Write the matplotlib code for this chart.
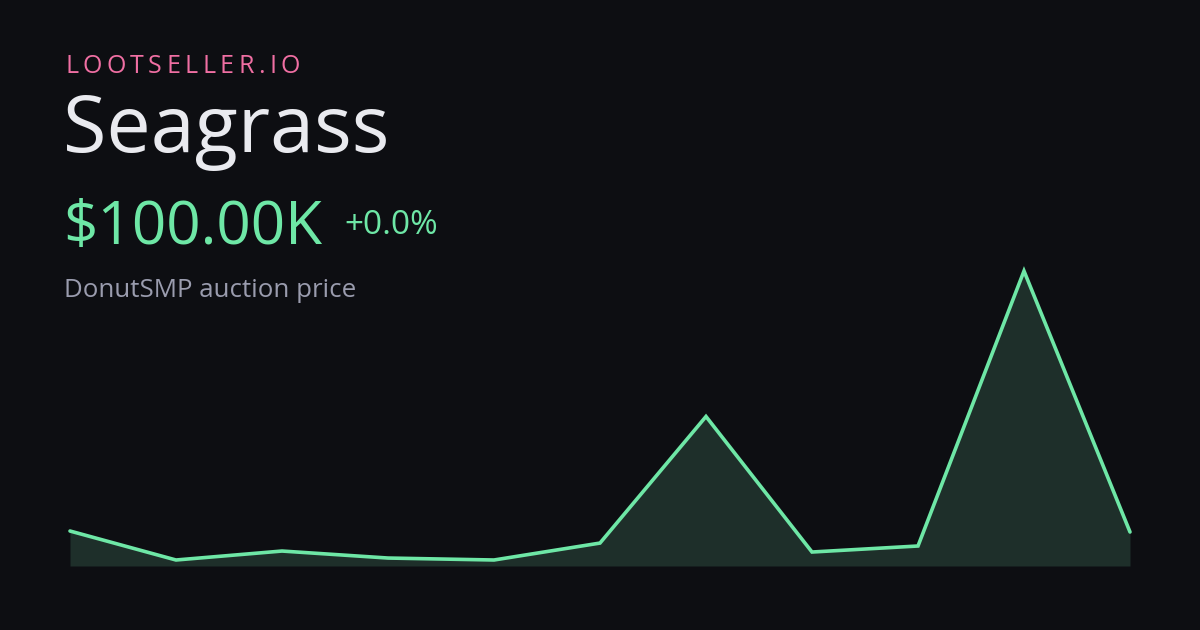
import numpy as np
import matplotlib
matplotlib.use('Agg')
import matplotlib.pyplot as plt

# ─────────────────────────────────────────────────────────────────────────────
# data (prices in $K)
# ─────────────────────────────────────────────────────────────────────────────

POINTS = list(range(11))
PRICES = [100.7, 80.0, 86.4, 81.4, 80.0, 92.1, 182.5, 85.7, 90.0, 286.4, 100.0]

BRAND    = 'LOOTSELLER.IO'
ITEM     = 'Seagrass'
PRICE    = '$100.00K'
CHANGE   = '+0.0%'
SUBTITLE = 'DonutSMP auction price'

# ─────────────────────────────────────────────────────────────────────────────
# style
# ─────────────────────────────────────────────────────────────────────────────

BG     = '#0d0e12'
GREEN  = '#6ee7a6'
FILL   = '#1e2f2a'
PINK   = '#f06fa3'
WHITE  = '#e9eaef'
GREY   = '#9a9cae'

W, H = 1200, 630
plt.rcParams['font.family'] = ['Open Sans', 'DejaVu Sans']

fig = plt.figure(figsize=(W / 100, H / 100), dpi=100, facecolor=BG)

def px(x, y):
    """pixel (from top-left) -> figure fraction"""
    return x / W, 1 - y / H

# ─────────────────────────────────────────────────────────────────────────────
# header texts
# ─────────────────────────────────────────────────────────────────────────────

# letter-spaced brand name, one glyph at a time
renderer = fig.canvas.get_renderer()
x = 65
for ch in BRAND:
    t = fig.text(*px(x, 73), ch, color=PINK, fontsize=18, va='baseline', ha='left')
    w = t.get_window_extent(renderer).width
    x += w + 4.4

fig.text(*px(63, 152), ITEM, color=WHITE, fontsize=57, va='baseline', ha='left')
fig.text(*px(63, 244), PRICE, color=GREEN, fontsize=43.4, va='baseline', ha='left')
fig.text(*px(344, 234), CHANGE, color=GREEN, fontsize=24, va='baseline', ha='left')
fig.text(*px(64, 297), SUBTITLE, color=GREY, fontsize=18.6, va='baseline', ha='left')

# ─────────────────────────────────────────────────────────────────────────────
# sparkline
# ─────────────────────────────────────────────────────────────────────────────

left, top, right, bottom = 70, 271, 1130, 566
ax = fig.add_axes([left / W, 1 - bottom / H, (right - left) / W, (bottom - top) / H])
ax.set_facecolor(BG)
ax.patch.set_alpha(0)

lo, hi = min(PRICES), max(PRICES)
pad = (hi - lo) * 6 / 289
base = lo - pad
ax.set_xlim(POINTS[0], POINTS[-1])
ax.set_ylim(base, hi)

ax.fill_between(POINTS, PRICES, base, color=FILL, lw=0, zorder=1)
ax.plot(POINTS, PRICES, color=GREEN, lw=2.6, solid_joinstyle='miter',
        solid_capstyle='round', clip_on=False, zorder=2)
ax.axis('off')

fig.savefig('out.png', dpi=100, facecolor=BG)
